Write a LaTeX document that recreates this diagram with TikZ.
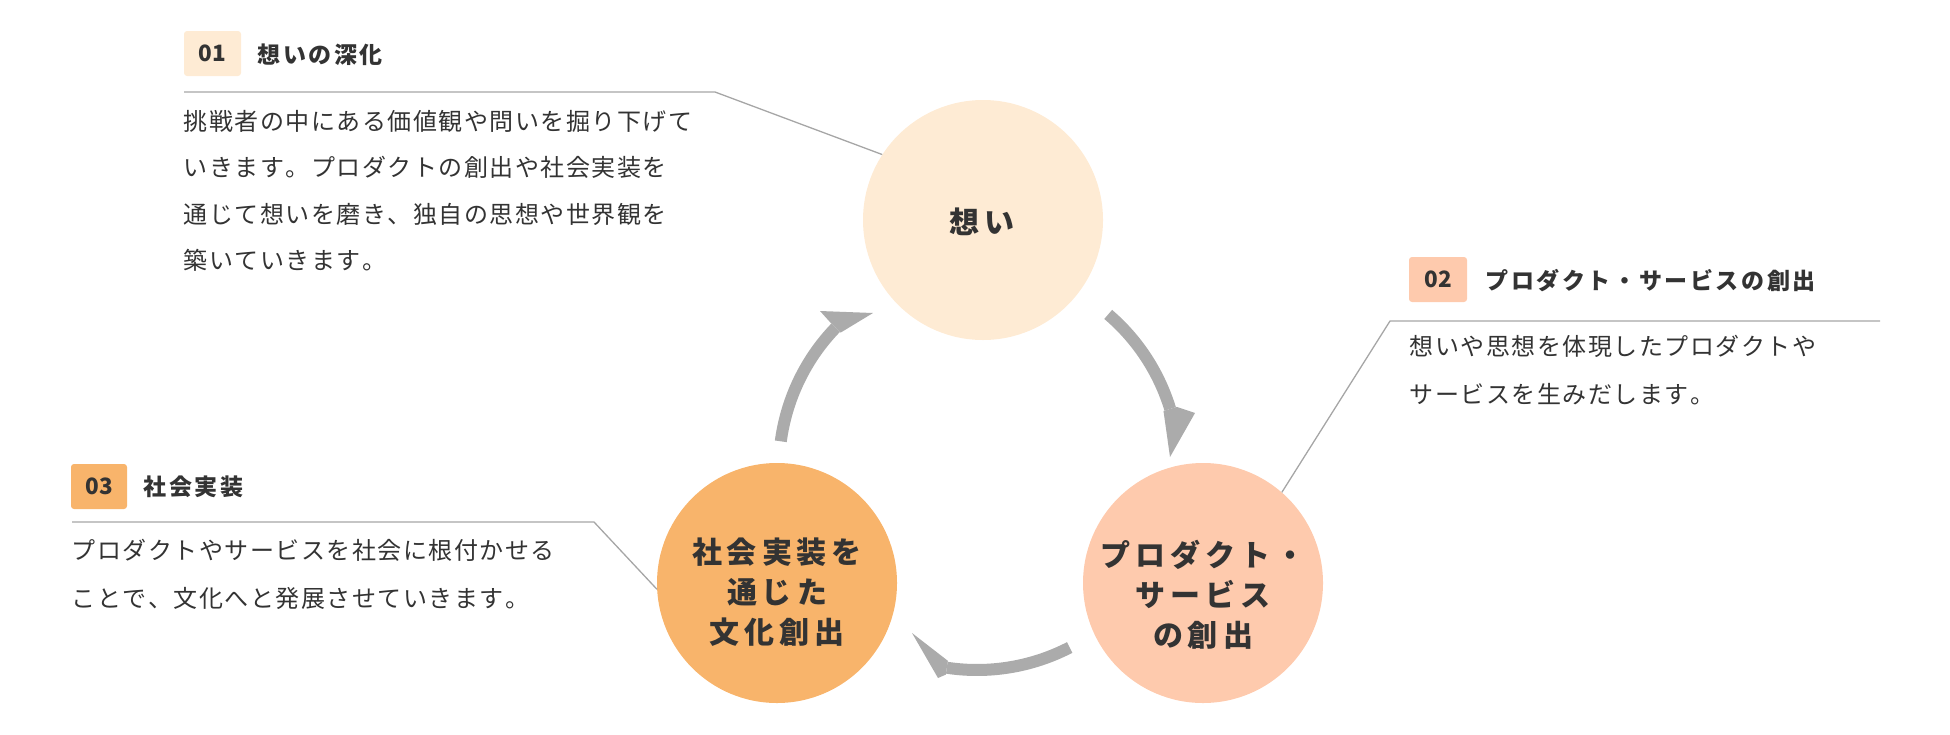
\documentclass[tikz,border=0pt]{standalone}
\usepackage{fontspec}
\newfontfamily\jp{Noto Sans CJK JP}
\usetikzlibrary{calc}
\definecolor{cA}{HTML}{FEEBD4}
\definecolor{cB}{HTML}{FECAAD}
\definecolor{cC}{HTML}{F8B46B}
\definecolor{txt}{HTML}{333333}
\definecolor{arr}{HTML}{ABABAB}
\definecolor{lead}{HTML}{A6A6A6}
\makeatletter
\def\sp@end{\sp@end}
\newcommand\spreadtxt[2]{\def\sp@pitch{#1}\sp@loop#2\sp@end}
\def\sp@loop#1{\ifx#1\sp@end\else\hbox to \sp@pitch{\hss#1\hss}\expandafter\sp@loop\fi}
\makeatother
\tikzset{
 bub/.style={circle, inner sep=0pt, minimum size=240pt},
 ctext/.style={text=txt, align=center, inner sep=0pt, font=\jp\bfseries\fontsize{30}{40}\selectfont},
 body/.style={text=txt, anchor=west, inner sep=0pt, text height=21.1pt, text depth=2.9pt, font=\jp\fontsize{24}{30}\selectfont},
 ttl/.style={text=txt, anchor=west, inner sep=0pt, text height=20.2pt, text depth=2.8pt, font=\jp\bfseries\fontsize{23}{26}\selectfont},
 numbox/.style={rounded corners=3pt, inner sep=0pt, minimum height=45pt, text=txt, font=\jp\bfseries\fontsize{22.5}{26}\selectfont},
 leader/.style={draw=lead, line width=1.3pt},
 shaft/.style={draw=arr, line width=12pt},
 head/.style={fill=arr},
}
\begin{document}
\begin{tikzpicture}[x=1pt,y=1pt]
\useasboundingbox (0,0) rectangle (1950,-734);
\coordinate (ctr) at (977,-468);
\coordinate (ctrL) at (981,-468);
% arrows
\draw[shaft] ($(ctr)+(49.5:202pt)$) arc[start angle=49.5, end angle=17, radius=202pt];
\fill[head] ($(ctr)+(17:195pt)$) -- ($(ctr)+(17:209pt)$) -- (1195,-413) -- (1170,-457) -- cycle;
\draw[shaft] ($(ctrL)+(172.4:202pt)$) arc[start angle=172.4, end angle=136, radius=202pt];
\fill[head] ($(ctrL)+(136:195pt)$) -- ($(ctrL)+(136:209pt)$) -- (820,-311) -- (873,-313) -- cycle;
\draw[shaft] ($(ctr)+(-62.7:202pt)$) arc[start angle=-62.7, end angle=-98.6, radius=202pt];
\fill[head] ($(ctr)+(-98.6:195pt)$) -- ($(ctr)+(-98.6:209pt)$) -- (938,-678) -- (912,-633) -- cycle;
% circles
\node[bub, fill=cA] (c1) at (983,-220) {};
\node[bub, fill=cB] (c2) at (1203,-583) {};
\node[bub, fill=cC] (c3) at (777,-583) {};
\node[ctext] (c1t) at (982,-222) {\spreadtxt{35pt}{想い}};
\node[ctext] (c2t) at (1203,-595) {\spreadtxt{35pt}{プロダクト・}\\\spreadtxt{35pt}{サービス}\\\spreadtxt{35pt}{の創出}};
\node[ctext] (c3t) at (777,-592) {\spreadtxt{35pt}{社会実装を}\\\spreadtxt{35pt}{通じた}\\\spreadtxt{35pt}{文化創出}};
% leader lines
\coordinate (l1a) at (184,-92);
\coordinate (l1b) at (715,-92);
\draw[leader] (l1a) -- (l1b) -- (c1.147);
\coordinate (l2a) at (1880,-321);
\coordinate (l2b) at (1390,-321);
\draw[leader] (l2a) -- (l2b) -- (c2.49);
\coordinate (l3a) at (72,-522);
\coordinate (l3b) at (594,-522);
\draw[leader] (l3a) -- (l3b) -- (c3.183);
% label 01
\node[numbox, fill=cA, minimum width=57pt] (n1) at (212.5,-53.5) {01};
\node[ttl] (h1) at (256,-55) {\spreadtxt{25.6pt}{想いの深化}};
\node[body] (b1a) at (183,-121) {\spreadtxt{25.5pt}{挑戦者の中にある価値観や問いを掘り下げて}};
\node[body] (b1b) at (183,-167) {\spreadtxt{25.5pt}{いきます。プロダクトの創出や社会実装を}};
\node[body] (b1c) at (183,-214) {\spreadtxt{25.5pt}{通じて想いを磨き、独自の思想や世界観を}};
\node[body] (b1d) at (183,-260) {\spreadtxt{25.5pt}{築いていきます。}};
% label 02
\node[numbox, fill=cB, minimum width=58pt] (n2) at (1438,-279.5) {02};
\node[ttl] (h2) at (1484,-281) {\spreadtxt{25.6pt}{プロダクト・サービスの創出}};
\node[body] (b2a) at (1409,-346) {\spreadtxt{25.5pt}{想いや思想を体現したプロダクトや}};
\node[body] (b2b) at (1409,-394) {\spreadtxt{25.5pt}{サービスを生みだします。}};
% label 03
\node[numbox, fill=cC, minimum width=56pt] (n3) at (99,-486.5) {03};
\node[ttl] (h3) at (142,-487) {\spreadtxt{25.6pt}{社会実装}};
\node[body] (b3a) at (71,-550) {\spreadtxt{25.5pt}{プロダクトやサービスを社会に根付かせる}};
\node[body] (b3b) at (71,-598) {\spreadtxt{25.5pt}{ことで、文化へと発展させていきます。}};
\end{tikzpicture}
\end{document}
